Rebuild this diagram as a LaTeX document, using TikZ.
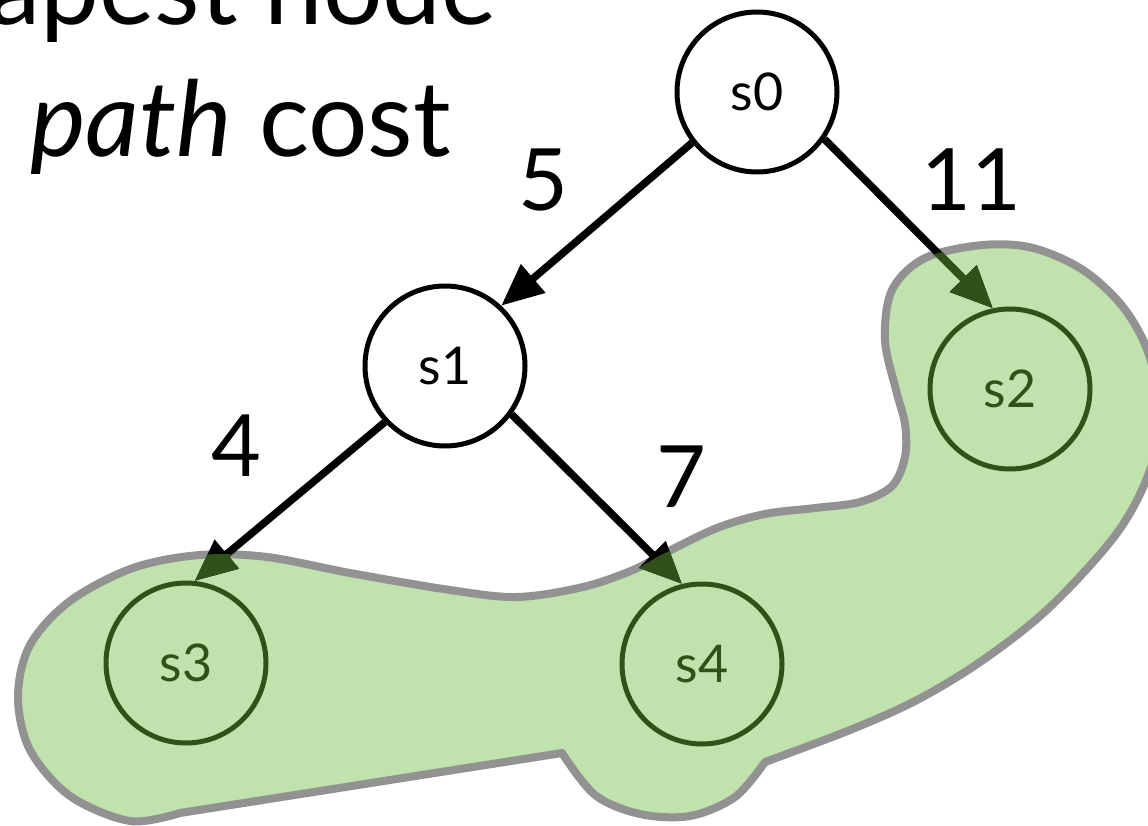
\documentclass[tikz,border=0pt]{standalone}
\usepackage{fontspec}
\setmainfont{Lato}
\usetikzlibrary{arrows.meta}
\definecolor{blobfill}{RGB}{192,227,173}
\definecolor{blobline}{RGB}{146,146,146}
\definecolor{dkgreen}{RGB}{48,82,26}
\begin{document}
\begin{tikzpicture}[x=1pt,y=-1pt,
  state/.style={circle,draw=black,line width=5pt,minimum size=160pt,inner sep=0pt,font=\fontsize{52}{52}\selectfont},
  goal/.style={state,draw=dkgreen,text=dkgreen},
  edge/.style={line width=7.5pt,-{Triangle[length=42pt,width=36pt]}},
  weight/.style={inner sep=0pt,font=\fontsize{86}{86}\selectfont},
  title/.style={inner sep=0pt,font=\fontsize{105}{105}\selectfont}]
\useasboundingbox (0,0) rectangle (1148,826);
\clip (0,0) rectangle (1148,826);
% frontier blob
\path[fill=blobfill, draw=blobline, line width=8pt, line join=round, save path=\blobsaved]
  plot[smooth, tension=0.55] coordinates {(180,813) (130,821) (70,796) (30,750) (18,697) (30,645) (70,601) (133,568) (200,555) (267,557) (350,573) (450,590) (517,597) (583,587) (633,570) (667,552) (717,528) (765,514) (815,508) (860,502) (892,486) (905,457) (905,424) (896,390) (885,340) (892,290) (925,258) (983,245) (1033,248) (1083,270) (1123,307) (1148,352) (1160,410) (1150,470) (1117,533) (1050,607) (983,660) (917,700) (850,730) (765,762)}
  -- plot[smooth, tension=0.55] coordinates {(765,762) (735,797) (690,816) (640,814) (595,795) (562,753)}
  -- cycle;
% nodes
\node[state] (s0) at (757,92) {s0};
\node[state] (s1) at (445,366) {s1};
\node[goal] (s2) at (1010,389) {s2};
\node[goal] (s3) at (186,663) {s3};
\node[goal] (s4) at (702,664) {s4};
% edges
\draw[edge] (s0.218) -- (s1.47);
\draw[edge] (s0.-35) -- (s2.102);
\draw[edge] (s1.223) -- (s3.84);
\draw[edge] (s1.-36) -- (s4.104);
\begin{scope}
  \clip[use path=\blobsaved];
  \draw[edge, dkgreen] (s0.-35) -- (s2.102);
  \draw[edge, dkgreen] (s1.223) -- (s3.84);
  \draw[edge, dkgreen] (s1.-36) -- (s4.104);
\end{scope}
% weights
\node[weight] (w5) at (543,180) {5};
\node[weight] (w11) at (971,180) {11};
\node[weight] (w4) at (236,446) {4};
\node[weight] (w7) at (681,477) {7};
% title
\node[title, anchor=base east] (t1) at (497,25) {cheapest node};
\node[title, anchor=base west] (t2) at (30,157) {\textit{path} cost};
\end{tikzpicture}
\end{document}
